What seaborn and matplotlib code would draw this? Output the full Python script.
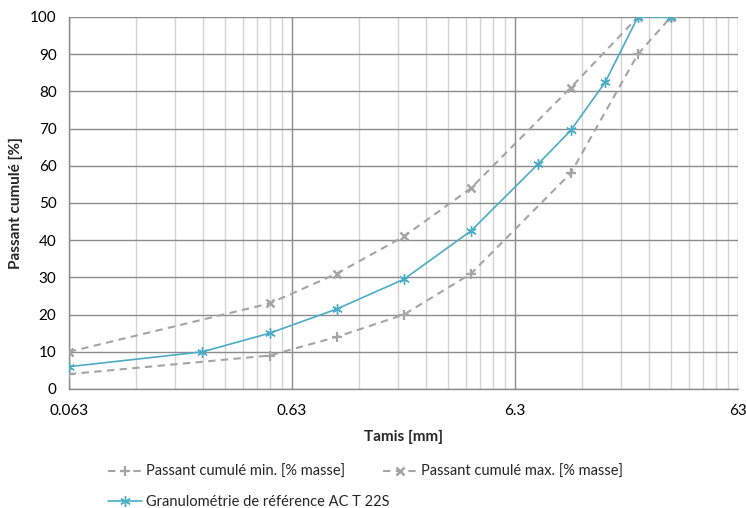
import matplotlib
matplotlib.use("Agg")
import matplotlib.pyplot as plt
import numpy as np
import pandas as pd
import seaborn as sns
from matplotlib.lines import Line2D
from matplotlib.ticker import FixedLocator, FixedFormatter, NullFormatter

# Sieve sizes [mm] and cumulative passing [%]
sieve_envelope = [0.063, 0.5, 1, 2, 4, 11.2, 22.4, 31.5]
passing_min = [4, 9, 14, 20, 31, 58, 90, 100]
passing_max = [10, 23, 31, 41, 54, 81, 100, 100]

sieve_ref = [0.063, 0.25, 0.5, 1, 2, 4, 8, 11.2, 16, 22.4, 31.5]
passing_ref = [6, 10, 15, 21.5, 29.5, 42.5, 60.5, 69.5, 82.5, 100, 100]

x_ticks = [0.063, 0.63, 6.3, 63]
x_tick_labels = ["0.063", "0.63", "6.3", "63"]
y_ticks = list(range(0, 101, 10))

label_min = "Passant cumulé min. [% masse]"
label_max = "Passant cumulé max. [% masse]"
label_ref = "Granulométrie de référence AC T 22S"

sns.set_theme(style="white")
plt.rcParams["font.family"] = ["Lato", "DejaVu Sans"]

GRAY = "#a5a5a5"
BLUE = "#4bacc6"
MAJOR = "#8c8c8c"
MINOR = "#d4d4d4"

fig = plt.figure(figsize=(7.46, 5.08), dpi=100)
ax = fig.add_axes([69 / 746, 1 - 389 / 508, (738 - 69) / 746, (389 - 17) / 508])

df_min = pd.DataFrame({"sieve": sieve_envelope, "passing": passing_min})
df_max = pd.DataFrame({"sieve": sieve_envelope, "passing": passing_max})
df_ref = pd.DataFrame({"sieve": sieve_ref, "passing": passing_ref})

dash = (0, (3.5, 2.6))
sns.lineplot(data=df_min, x="sieve", y="passing", ax=ax, color=GRAY, lw=1.5,
             linestyle=dash, marker="+", markersize=7, mew=1.6, mec=GRAY,
             estimator=None, sort=False, zorder=3)
sns.lineplot(data=df_max, x="sieve", y="passing", ax=ax, color=GRAY, lw=1.5,
             linestyle=dash, marker="x", markersize=6, mew=1.8, mec=GRAY,
             estimator=None, sort=False, zorder=3)
sns.lineplot(data=df_ref, x="sieve", y="passing", ax=ax, color=BLUE, lw=1.2,
             marker=(6, 2, 0), markersize=7.5, mew=1.0, mec=BLUE,
             estimator=None, sort=False, zorder=4)

ax.set_xscale("log")
ax.set_xlim(0.063, 63)
ax.set_ylim(0, 100)

minor_pos = [0.063 * k * 10 ** n for n in range(3) for k in range(2, 10)]
ax.xaxis.set_major_locator(FixedLocator(x_ticks))
ax.xaxis.set_major_formatter(FixedFormatter(x_tick_labels))
ax.xaxis.set_minor_locator(FixedLocator(minor_pos))
ax.xaxis.set_minor_formatter(NullFormatter())
ax.set_yticks(y_ticks)

ax.grid(True, which="major", axis="both", color=MAJOR, lw=1.0, zorder=0)
ax.grid(True, which="minor", axis="x", color=MINOR, lw=1.0, zorder=0)
ax.set_axisbelow(True)

for side in ("top", "right"):
    ax.spines[side].set_visible(False)
for side in ("left", "bottom"):
    ax.spines[side].set_color(MAJOR)
    ax.spines[side].set_linewidth(1.0)

ax.tick_params(axis="both", which="major", direction="out", length=5, width=1,
               color=MAJOR, labelsize=11, labelcolor="#000000", pad=4)
ax.tick_params(axis="x", which="minor", direction="out", length=5, width=1,
               color=MINOR)
ax.tick_params(axis="x", which="major", pad=6)

ax.set_xlabel("Tamis [mm]", fontsize=11, fontweight="bold", labelpad=8)
ax.set_ylabel("Passant cumulé [%]", fontsize=11, fontweight="bold", labelpad=5)

h_min = Line2D([], [], color=GRAY, lw=1.5, linestyle=dash, marker="+",
               markersize=7, mew=1.6)
h_max = Line2D([], [], color=GRAY, lw=1.5, linestyle=dash, marker="x",
               markersize=6, mew=1.8)
h_ref = Line2D([], [], color=BLUE, lw=1.2, marker=(6, 2, 0), markersize=7.5,
               mew=1.0)

legend_kw = dict(loc="upper left", frameon=False, fontsize=10.5,
                 handlelength=2.3, handletextpad=0.3, columnspacing=2.6,
                 borderpad=0.2)
# first row: the two envelope curves side by side
fig.legend([h_min, h_max], [label_min, label_max], ncol=2,
           bbox_to_anchor=(98 / 746, 1 - 455 / 508), **legend_kw)
# second row: the reference grading curve
fig.legend([h_ref], [label_ref], ncol=1,
           bbox_to_anchor=(98 / 746, 1 - 485 / 508), **legend_kw)

fig.savefig("out.png", dpi=100)
